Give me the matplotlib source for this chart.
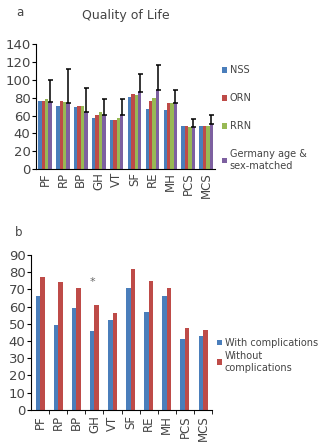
import numpy as np
import matplotlib.pyplot as plt

# datos
categorias = ["PF", "RP", "BP", "GH", "VT", "SF", "RE", "MH", "PCS", "MCS"]

nss = [76, 71, 69, 57, 55, 81, 67, 66, 48, 48]
orn = [76, 76, 71, 61, 55, 84, 76, 74, 48, 48]
rrn = [79, 75, 71, 64, 57, 83, 80, 74, 47, 48]
germany = [75, 74, 64, 61, 61, 86, 89, 74, 47, 51]
germany_sd = [25, 38, 27, 17, 17, 20, 27, 15, 9, 10]

con_compl = [66, 49, 59, 46, 52, 71, 57, 66, 41, 43]
sin_compl = [77, 74, 71, 61, 56, 82, 75, 71, 47.5, 46.5]

azul = "#4a7ebb"
rojo = "#be4b48"
verde = "#98b954"
morado = "#7d60a0"
gris = "#444444"

plt.rcParams["font.family"] = "DejaVu Sans"

fig = plt.figure(figsize=(3.34, 4.44), dpi=100)
x = np.arange(len(categorias))

# --------------------------------------------------------------
# Panel a
# --------------------------------------------------------------
ax1 = fig.add_axes([0.108, 0.619, 0.536, 0.282])
w = 0.19
ax1.bar(x - 1.5 * w, nss, w, color=azul, label="NSS")
ax1.bar(x - 0.5 * w, orn, w, color=rojo, label="ORN")
ax1.bar(x + 0.5 * w, rrn, w, color=verde, label="RRN")
ax1.bar(x + 1.5 * w, germany, w, color=morado, label="Germany age &\nsex-matched",
        yerr=[np.zeros(len(germany)), germany_sd],
        error_kw=dict(ecolor="black", elinewidth=1.1, capsize=1.8, capthick=1.1))
ax1.set_xlim(-0.5, len(categorias) - 0.5)
ax1.set_ylim(0, 140)
ax1.set_yticks(range(0, 141, 20))
ax1.set_xticks(x)
ax1.set_xticklabels(categorias, rotation=90, fontsize=8.5, color=gris)
ax1.tick_params(axis="x", length=0, pad=2)
ax1.tick_params(axis="y", labelsize=9.5, labelcolor=gris, length=3, pad=1)
ax1.spines["top"].set_visible(False)
ax1.spines["right"].set_visible(False)
ax1.set_title("Quality of Life", fontsize=9, color=gris, pad=18)
fig.text(0.05, 0.972, "a", fontsize=8.5, color=gris, va="center")
ax1.legend(loc="upper left", bbox_to_anchor=(0.99, 0.9), frameon=False, fontsize=7,
           handlelength=0.5, handleheight=0.5, handletextpad=0.3, labelspacing=1.85, labelcolor=gris)

# --------------------------------------------------------------
# Panel b
# --------------------------------------------------------------
ax2 = fig.add_axes([0.093, 0.077, 0.542, 0.349])
w2 = 0.25
ax2.bar(x - w2 / 2, con_compl, w2, color=azul, label="With complications")
ax2.bar(x + w2 / 2, sin_compl, w2, color=rojo, label="Without\ncomplications")
ax2.text(x[3] - 0.1, 74, "*", ha="center", va="center", fontsize=8, color="#666666")
ax2.set_xlim(-0.5, len(categorias) - 0.5)
ax2.set_ylim(0, 90)
ax2.set_yticks(range(0, 91, 10))
ax2.set_xticks(x)
ax2.set_xticklabels(categorias, rotation=90, fontsize=8.5, color=gris)
ax2.set_xticks(np.arange(0.5, len(categorias), 1), minor=True)
ax2.tick_params(axis="x", which="major", length=0, pad=4)
ax2.tick_params(axis="x", which="minor", length=3)
ax2.tick_params(axis="y", labelsize=9.5, labelcolor=gris, length=3, pad=1)
ax2.spines["top"].set_visible(False)
ax2.spines["right"].set_visible(False)
fig.text(0.045, 0.477, "b", fontsize=8.5, color=gris, va="center")
ax2.legend(loc="upper left", bbox_to_anchor=(0.98, 0.52), frameon=False, fontsize=7,
           handlelength=0.5, handleheight=0.5, handletextpad=0.3, labelspacing=0.3, labelcolor=gris)

fig.savefig("out.png", dpi=100)
plt.close(fig)
